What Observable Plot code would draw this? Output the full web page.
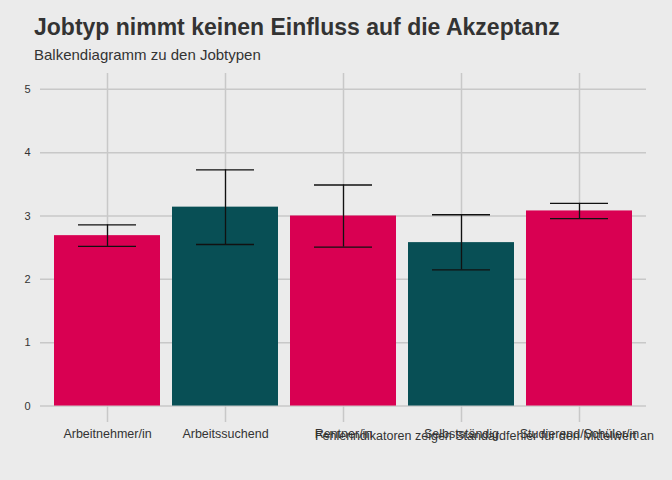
<!DOCTYPE HTML>
<html lang="de">
  <head>
    <meta charset="UTF-8">
    <title>Jobtyp</title>
    <style>
      body { margin: 0; background: #ebebeb; font-family: "Liberation Sans", Arial, sans-serif; width: 672px; }
      h1 { margin: 0; padding: 14px 0 0 34px; font-size: 23px; color: #333; }
      p.sub { margin: 5px 0 0 34px; font-size: 15px; color: #333; }
      #chart svg { display: block; }
      p.cap { margin: -30px 0 0 0; padding-right: 18px; text-align: right; font-size: 12.5px; color: #333; position: relative; }
    </style>
  </head>
  <body>
    <h1>Jobtyp nimmt keinen Einfluss auf die Akzeptanz</h1>
    <p class="sub">Balkendiagramm zu den Jobtypen</p>
    <div id="chart"></div>
    <p class="cap">Fehlerindikatoren zeigen Standardfehler für den Mittelwert an</p>
    <script src="https://cdn.jsdelivr.net/npm/d3@7"></script>
    <script src="https://cdn.jsdelivr.net/npm/@observablehq/plot@0.6"></script>
    <script>
      const jobs = ['Arbeitnehmer/in', 'Arbeitssuchend', 'Rentner/in', 'Selbstständig', 'Studierend/Schüler/in'];
      const means = [2.69, 3.14, 3.00, 2.58, 3.08];
      const lower = [2.52, 2.55, 2.51, 2.15, 2.96];
      const upper = [2.86, 3.73, 3.49, 3.02, 3.20];
      const group = ['a', 'b', 'a', 'b', 'a'];
      const yTicks = [0, 1, 2, 3, 4, 5];

      const data = jobs.map((job, i) => ({job, mean: means[i], lo: lower[i], hi: upper[i], g: group[i]}));

      const svg = Plot.plot({
        width: 672,
        height: 396,
        marginTop: 10,
        marginLeft: 40,
        marginRight: 26,
        marginBottom: 37,
        style: {background: '#ebebeb', fontFamily: '"Liberation Sans", Arial, sans-serif', fontSize: '12.5px', color: '#333'},
        x: {domain: jobs, padding: 0.1, label: null},
        y: {domain: [-0.26, 5.25], label: null},
        color: {domain: ['a', 'b'], range: ['#d90052', '#084f55']},
        marks: [
          Plot.gridX(jobs, {stroke: '#c8c8c8', strokeOpacity: 1, strokeWidth: 1.5}),
          Plot.gridY(yTicks, {stroke: '#c8c8c8', strokeOpacity: 1, strokeWidth: 1.5}),
          Plot.axisY(yTicks, {tickSize: 0, tickPadding: 10, fontSize: 11, tickFormat: d3.format('d')}),
          Plot.axisX({tickSize: 0, tickPadding: 7}),
          Plot.barY(data, {x: 'job', y1: 0, y2: 'mean', fill: 'g'}),
          Plot.ruleX(data, {x: 'job', y1: 'lo', y2: 'hi', stroke: '#111', strokeWidth: 1.3}),
          Plot.tickY(data, {x: 'job', y: 'lo', stroke: '#111', strokeWidth: 1.3, insetLeft: 24, insetRight: 24}),
          Plot.tickY(data, {x: 'job', y: 'hi', stroke: '#111', strokeWidth: 1.3, insetLeft: 24, insetRight: 24})
        ]
      });
      document.getElementById('chart').append(svg);
    </script>
  </body>
</html>
